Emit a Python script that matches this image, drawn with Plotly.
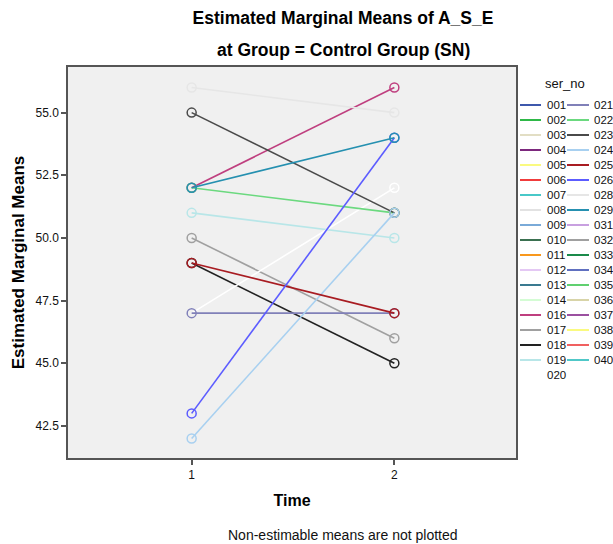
import math
import plotly.graph_objects as go

# ---------------- data ----------------
time_points = [1, 2]
time_labels = ["1", "2"]

y_tick_values = [42.5, 45.0, 47.5, 50.0, 52.5, 55.0]

# all ser_no levels shown in the legend, with their SPSS colours
series_ids = ["001", "002", "003", "004", "005", "006", "007", "008", "009", "010",
              "011", "012", "013", "014", "016", "017", "018", "019", "020",
              "021", "022", "023", "024", "025", "026", "028", "029", "031", "032",
              "033", "034", "035", "036", "037", "038", "039", "040"]
series_colors = ["#3e58ac", "#2eb848", "#e2dec4", "#7c287d", "#fafa80", "#f03c3c", "#48c8c8",
                 "#e2e2e2", "#7aaad8", "#3a7050", "#f8981d", "#e4c8f4", "#3a7a90", "#d4fcd4",
                 "#bf3f7f", "#a0a0a0", "#222222", "#b8e6e8", "#ffffff",
                 "#8080b8", "#6bd97f", "#4a4a4a", "#a8d0f0", "#a81c22", "#5c5cff", "#e6e6e6",
                 "#2590b0", "#c8a0e0", "#a0a0a0", "#1a8a4a", "#6070c0", "#60d070", "#d8d4a8",
                 "#9b50a0", "#fafa80", "#f06060", "#50c8c8"]

# estimable means (series order = drawing order)
plotted_series = ["016", "017", "018", "019", "020", "021", "022", "023", "024", "025",
                  "026", "028", "029"]
mean_time1 = [52, 50, 49, 51, 47, 47, 52, 55, 42, 49, 43, 56, 52]
mean_time2 = [56, 46, 45, 50, 52, 47, 51, 51, 51, 47, 54, 55, 54]

# ---------------- layout geometry (pixels) ----------------
FIG_W, FIG_H = 613, 544
L, R, T, B = 68, 516, 67, 458   # plot area
FONT = "Liberation Sans, Arial, sans-serif"


def px2x(px):
    return (px - L) / (R - L)


def py2y(py):
    return (B - py) / (B - T)


color_of = dict(zip(series_ids, series_colors))

fig = go.Figure()
for sid, v1, v2 in zip(plotted_series, mean_time1, mean_time2):
    c = color_of[sid]
    fig.add_trace(go.Scatter(
        x=time_points, y=[v1, v2], name=sid, mode="lines+markers",
        line=dict(color=c, width=1.6),
        marker=dict(symbol="circle-open", size=9, color=c, line=dict(width=1.5, color=c)),
        showlegend=False,
        hovertemplate="ser_no %{fullData.name}<br>Time %{x}<br>%{y:.2f}<extra></extra>",
    ))

# ---------------- legend (two columns, like SPSS) ----------------
shapes = []
annotations = []
n_col1 = math.ceil(len(series_ids) / 2)
row0_y, row_step = 105, 15.0
col_geom = [(520, 541, 545), (567, 589, 592)]
for i, (sid, col) in enumerate(zip(series_ids, series_colors)):
    ci = 0 if i < n_col1 else 1
    ri = i if i < n_col1 else i - n_col1
    x0, x1, xt = col_geom[ci]
    yy = py2y(row0_y + ri * row_step)
    shapes.append(dict(type="line", xref="paper", yref="paper",
                       x0=px2x(x0), x1=px2x(x1), y0=yy, y1=yy,
                       line=dict(color=col, width=2)))
    annotations.append(dict(text=sid, xref="paper", yref="paper", x=px2x(xt), y=yy,
                            xanchor="left", yanchor="middle", showarrow=False,
                            font=dict(family=FONT, size=11.5, color="#111111")))
annotations.append(dict(text="ser_no", xref="paper", yref="paper", x=px2x(543), y=py2y(83),
                        xanchor="left", yanchor="middle", showarrow=False,
                        font=dict(family=FONT, size=13, color="#111111")))

# subtitle line and footnote
annotations.append(dict(text="<b>at Group = Control Group (SN)</b>", xref="paper", yref="paper",
                        x=px2x(343), y=py2y(50), xanchor="center", yanchor="middle",
                        showarrow=False, font=dict(family=FONT, size=17.5, color="#000000")))
annotations.append(dict(text="Non-estimable means are not plotted", xref="paper", yref="paper",
                        x=px2x(343), y=py2y(535), xanchor="center", yanchor="middle",
                        showarrow=False, font=dict(family=FONT, size=14, color="#111111")))

fig.update_layout(
    width=FIG_W, height=FIG_H,
    margin=dict(l=L, r=FIG_W - R, t=T, b=FIG_H - B, autoexpand=False),
    paper_bgcolor="#ffffff", plot_bgcolor="#f0f0f0",
    font=dict(family=FONT, size=12, color="#111111"),
    title=dict(text="<b>Estimated Marginal Means of A_S_E</b>",
               x=343 / FIG_W, xanchor="center", xref="container",
               y=1 - 17.5 / FIG_H, yanchor="middle", yref="container",
               font=dict(family=FONT, size=17.5, color="#000000")),
    showlegend=False,
    shapes=shapes,
    annotations=annotations,
)
fig.update_xaxes(
    range=[0.39, 2.60], tickvals=time_points, ticktext=time_labels,
    showgrid=False, zeroline=False, showline=True, mirror=True,
    linecolor="#555555", linewidth=1.5,
    ticks="outside", ticklen=5, tickwidth=1.5, tickcolor="#555555",
    tickfont=dict(family=FONT, size=12, color="#111111"),
    title=dict(text="<b>Time</b>", standoff=14, font=dict(family=FONT, size=16, color="#000000")),
)
fig.update_yaxes(
    range=[41.22, 56.82], tickvals=y_tick_values, tickformat=".1f",
    showgrid=False, zeroline=False, showline=True, mirror=True,
    linecolor="#555555", linewidth=1.5,
    ticks="outside", ticklen=5, tickwidth=1.5, tickcolor="#555555",
    tickfont=dict(family=FONT, size=12, color="#111111"),
    title=dict(text="<b>Estimated Marginal Means</b>", standoff=7,
               font=dict(family=FONT, size=17, color="#000000")),
)

# remove the default 8px page margin so the 613x544 figure fills the window exactly
fig.write_html("out.html", config={"displayModeBar": False},
               post_script="document.body.style.margin='0px';")
